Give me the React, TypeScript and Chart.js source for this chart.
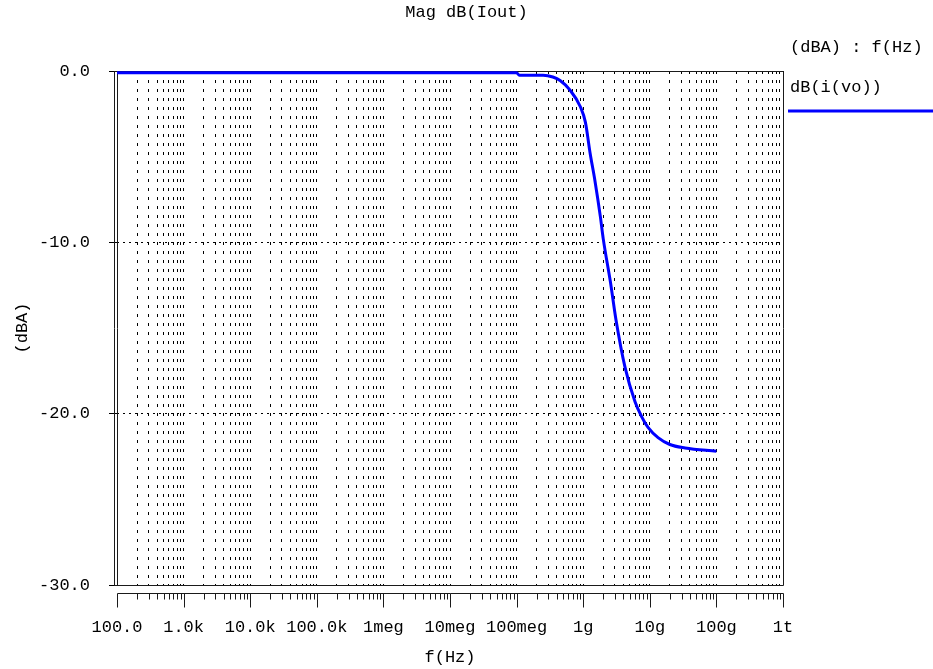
import React, { useEffect, useRef } from 'react';
import { Chart, registerables } from 'chart.js';

Chart.register(...registerables);

// ---- data ----
const freqHz = [
  1e2, 1e8, 1.1e8, 2.5e8, 3.5e8, 4.5e8, 6.3e8, 9.1e8, 1.08e9, 1.27e9, 1.5e9,
  1.81e9, 2.0e9, 2.56e9, 3.1e9, 4.25e9, 6.0e9, 7.6e9, 9.4e9, 1.33e10, 2.0e10,
  3.4e10, 1e11,
];
const magDb = [
  -0.1, -0.1, -0.25, -0.25, -0.35, -0.55, -1.1, -2.1, -3.0, -4.8, -6.4,
  -8.5, -9.8, -12.3, -14.5, -17.3, -19.3, -20.2, -20.8, -21.4, -21.8,
  -22.0, -22.2,
];
const decadeValues = [1e2, 1e3, 1e4, 1e5, 1e6, 1e7, 1e8, 1e9, 1e10, 1e11, 1e12];
const decadeLabels = ['100.0', '1.0k', '10.0k', '100.0k', '1meg', '10meg', '100meg', '1g', '10g', '100g', '1t'];
const minorMultipliers = [2, 3, 4, 5, 6, 7, 8, 9];
const yMin = -30;
const yMax = 0;
const yStep = 10;

const chartTitle = 'Mag dB(Iout)';
const xTitle = 'f(Hz)';
const yTitle = '(dBA)';
const legendHeader = '(dBA) : f(Hz)';
const seriesLabel = 'dB(i(vo))';
const seriesColor = '#0000ff';

const FONT = '"Liberation Mono", "DejaVu Sans Mono", monospace';

const framePlugin = {
  id: 'spiceFrame',
  beforeDatasetsDraw(chart: any) {
    const { ctx, chartArea, scales } = chart;
    const { left, right, top, bottom } = chartArea;
    const xs = scales.x;
    const a = (v: number) => Math.round(v) + 0.5;
    ctx.save();
    ctx.strokeStyle = '#1a1a1a';
    ctx.lineWidth = 1;
    ctx.setLineDash([]);
    ctx.beginPath();
    // box
    ctx.moveTo(a(left) - 3, a(top));
    ctx.lineTo(a(right), a(top));
    ctx.lineTo(a(right), a(bottom));
    ctx.lineTo(a(left) - 3, a(bottom));
    // double left line
    ctx.moveTo(a(left) - 3, a(top));
    ctx.lineTo(a(left) - 3, a(bottom));
    ctx.moveTo(a(left), a(top));
    ctx.lineTo(a(left), a(bottom));
    // separate bottom axis
    const ay = a(bottom + 8);
    ctx.moveTo(a(left), ay);
    ctx.lineTo(a(right), ay);
    xs.ticks.forEach((t: any) => {
      const px = a(xs.getPixelForValue(t.value));
      const major = decadeValues.indexOf(t.value) >= 0;
      ctx.moveTo(px, ay);
      ctx.lineTo(px, ay + (major ? 14 : 6));
    });
    ctx.stroke();
    ctx.restore();
  },
  afterDraw(chart: any) {
    const { ctx, chartArea } = chart;
    const ds = chart.data.datasets[0];
    const lx = chartArea.right + 7;
    ctx.save();
    ctx.font = `17px ${FONT}`;
    ctx.fillStyle = '#000';
    ctx.textBaseline = 'middle';
    ctx.textAlign = 'left';
    ctx.fillText(legendHeader, lx, 47);
    ctx.fillText(ds.label, lx, 87);
    ctx.strokeStyle = ds.borderColor;
    ctx.lineWidth = 3;
    ctx.beginPath();
    ctx.moveTo(chartArea.right + 5, 111);
    ctx.lineTo(chart.width, 111);
    ctx.stroke();
    ctx.restore();
  },
};

export default function App() {
  const canvasRef = useRef<HTMLCanvasElement | null>(null);

  useEffect(() => {
    if (!canvasRef.current) return;
    const points = freqHz.map((f, i) => ({ x: f, y: magDb[i] }));
    const chart = new Chart(canvasRef.current, {
      type: 'line',
      data: {
        datasets: [
          {
            label: seriesLabel,
            data: points,
            borderColor: seriesColor,
            backgroundColor: seriesColor,
            borderWidth: 3,
            pointRadius: 0,
            cubicInterpolationMode: 'monotone',
            fill: false,
            yAxisID: 'y',
          },
        ],
      },
      plugins: [framePlugin],
      options: {
        animation: false,
        responsive: true,
        maintainAspectRatio: false,
        layout: { padding: { left: 0, right: 0, top: 0, bottom: 0 } },
        plugins: {
          legend: { display: false },
          tooltip: { enabled: false },
          title: {
            display: true,
            text: chartTitle,
            color: '#000',
            font: { family: FONT, size: 17, weight: 'normal', lineHeight: 1.2 },
            padding: { top: 2, bottom: 48.6 },
          },
        },
        scales: {
          x: {
            type: 'logarithmic',
            min: decadeValues[0],
            max: decadeValues[decadeValues.length - 1],
            afterBuildTicks: (scale: any) => {
              const ticks: any[] = [];
              decadeValues.forEach((d, i) => {
                ticks.push({ value: d });
                if (i < decadeValues.length - 1) {
                  minorMultipliers.forEach((m) => ticks.push({ value: m * d }));
                }
              });
              scale.ticks = ticks;
            },
            afterFit: (scale: any) => {
              scale.height = 84;
            },
            ticks: {
              autoSkip: false,
              maxRotation: 0,
              minRotation: 0,
              padding: 32,
              color: '#000',
              font: { family: FONT, size: 17, lineHeight: 1.2 },
              callback: (value: any) => {
                const i = decadeValues.indexOf(Number(value));
                return i >= 0 ? decadeLabels[i] : '';
              },
            },
            grid: {
              drawOnChartArea: true,
              drawTicks: false,
              color: '#000',
              lineWidth: 1,
            },
            border: { display: false, dash: [3, 6] },
            title: {
              display: true,
              text: xTitle,
              color: '#000',
              font: { family: FONT, size: 17, lineHeight: 1.2 },
              padding: { top: 0, bottom: 1 },
            },
          },
          y: {
            type: 'linear',
            position: 'left',
            min: yMin,
            max: yMax,
            afterFit: (scale: any) => {
              scale.width = 117;
            },
            ticks: {
              stepSize: yStep,
              padding: 19,
              color: '#000',
              font: { family: FONT, size: 17, lineHeight: 1.2 },
              callback: (value: any) => Number(value).toFixed(1),
            },
            grid: {
              drawOnChartArea: true,
              drawTicks: true,
              tickLength: 8,
              tickColor: '#000',
              tickBorderDash: [],
              color: '#000',
              lineWidth: 1,
            },
            border: { display: false, dash: [2, 4] },
            title: {
              display: true,
              text: yTitle,
              color: '#000',
              font: { family: FONT, size: 17, lineHeight: 1.2 },
              padding: { top: 12, bottom: 0 },
            },
          },
          legendSpace: {
            type: 'linear',
            position: 'right',
            display: true,
            min: yMin,
            max: yMax,
            afterFit: (scale: any) => {
              scale.width = 150;
            },
            ticks: { display: false },
            grid: { display: false, drawOnChartArea: false, drawTicks: false },
            border: { display: false },
          },
        },
      } as any,
    });
    return () => chart.destroy();
  }, []);

  return (
    <div style={{ position: 'absolute', left: 0, top: 0, width: 933, height: 669, background: '#fff' }}>
      <canvas ref={canvasRef} />
    </div>
  );
}
